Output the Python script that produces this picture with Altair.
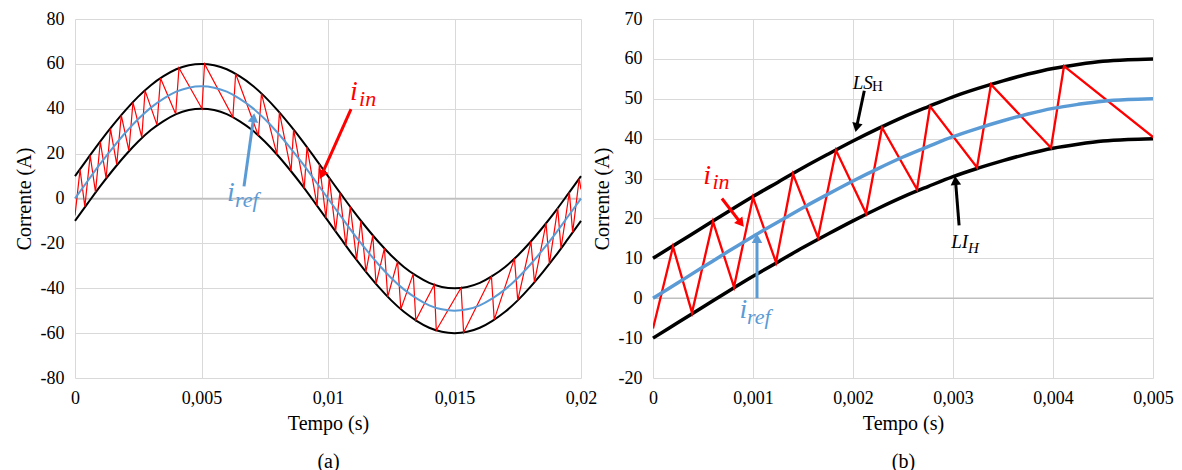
import altair as alt
import pandas as pd

FONT = "Liberation Serif, Times New Roman, serif"
RED, BLUE, BLACK = "#FF0000", "#5B9BD5", "#000000"

# ---------------- panel (a) : full period ----------------
t_a = [0, 0.0005, 0.001, 0.0015, 0.002, 0.0025, 0.003, 0.0035, 0.004, 0.0045,
       0.005, 0.0055, 0.006, 0.0065, 0.007, 0.0075, 0.008, 0.0085, 0.009, 0.0095,
       0.01, 0.0105, 0.011, 0.0115, 0.012, 0.0125, 0.013, 0.0135, 0.014, 0.0145,
       0.015, 0.0155, 0.016, 0.0165, 0.017, 0.0175, 0.018, 0.0185, 0.019, 0.0195, 0.02]
ref_a = [0, 7.8, 15.5, 22.7, 29.4, 35.4, 40.5, 44.5, 47.6, 49.4,
         50, 49.4, 47.6, 44.5, 40.5, 35.4, 29.4, 22.7, 15.5, 7.8,
         0, -7.8, -15.5, -22.7, -29.4, -35.4, -40.5, -44.5, -47.6, -49.4,
         -50, -49.4, -47.6, -44.5, -40.5, -35.4, -29.4, -22.7, -15.5, -7.8, 0]
ls_a = [10, 17.8, 25.5, 32.7, 39.4, 45.4, 50.5, 54.5, 57.6, 59.4,
        60, 59.4, 57.6, 54.5, 50.5, 45.4, 39.4, 32.7, 25.5, 17.8,
        10, 2.2, -5.5, -12.7, -19.4, -25.4, -30.5, -34.5, -37.6, -39.4,
        -40, -39.4, -37.6, -34.5, -30.5, -25.4, -19.4, -12.7, -5.5, 2.2, 10]
li_a = [-10, -2.2, 5.5, 12.7, 19.4, 25.4, 30.5, 34.5, 37.6, 39.4,
        40, 39.4, 37.6, 34.5, 30.5, 25.4, 19.4, 12.7, 5.5, -2.2,
        -10, -17.8, -25.5, -32.7, -39.4, -45.4, -50.5, -54.5, -57.6, -59.4,
        -60, -59.4, -57.6, -54.5, -50.5, -45.4, -39.4, -32.7, -25.5, -17.8, -10]

# input current (hysteresis zig-zag vertices)
t_in = [0, 0.0002, 0.00039, 0.0006, 0.00081, 0.001, 0.00123, 0.0014, 0.00165, 0.00183,
        0.00213, 0.00229, 0.00264, 0.00277, 0.00324, 0.00338, 0.00398, 0.00411,
        0.00502, 0.00512, 0.00624, 0.00635, 0.00725, 0.00737, 0.00798, 0.00808,
        0.00854, 0.00864, 0.00906, 0.00917, 0.00957, 0.00966, 0.00992, 0.01005,
        0.0103, 0.01047, 0.01071, 0.01088, 0.01113, 0.0113, 0.0115, 0.01177,
        0.0119, 0.01223, 0.01236, 0.01275, 0.01288, 0.01337, 0.01347, 0.0142,
        0.01428, 0.01526, 0.01536, 0.01646, 0.01657, 0.01737, 0.0175, 0.01802,
        0.01816, 0.01862, 0.01875, 0.01908, 0.01921, 0.01954, 0.01967, 0.01993, 0.02]
i_in = [-7.6, 12.9, -3.6, 19.2, 2.8, 25.3, 9.0, 31.1, 15.2, 37.1,
        21.3, 42.8, 27.3, 48.1, 32.8, 53.6, 37.7, 58.2,
        40.0, 60.0, 36.3, 55.6, 28.0, 46.7, 19.7, 38.4,
        12.2, 30.7, 4.5, 22.9, -3.3, 15.3, -8.7, 9.2,
        -14.7, 2.6, -21.1, -3.6, -27.3, -9.9, -32.7, -16.4,
        -38.1, -22.2, -43.8, -28.0, -49.3, -33.6, -54.3, -38.4,
        -58.7, -39.8, -59.7, -34.8, -54.0, -26.7, -45.4, -19.1,
        -37.3, -11.0, -29.1, -4.3, -22.3, 2.8, -15.1, 8.9, 4.0]

# ---------------- panel (b) : first quarter ----------------
t_b = [0, 0.00025, 0.0005, 0.00075, 0.001, 0.00125, 0.0015, 0.00175, 0.002, 0.00225,
       0.0025, 0.00275, 0.003, 0.00325, 0.0035, 0.00375, 0.004, 0.00425, 0.0045, 0.00475, 0.005]
ref_b = [0, 3.9, 7.8, 11.7, 15.5, 19.1, 22.7, 26.1, 29.4, 32.5,
         35.4, 38.0, 40.5, 42.6, 44.5, 46.2, 47.6, 48.6, 49.4, 49.8, 50]
ls_b = [10, 13.9, 17.8, 21.7, 25.5, 29.1, 32.7, 36.1, 39.4, 42.5,
        45.4, 48.0, 50.5, 52.6, 54.5, 56.2, 57.6, 58.6, 59.4, 59.8, 60]
li_b = [-10, -6.1, -2.2, 1.7, 5.5, 9.1, 12.7, 16.1, 19.4, 22.5,
        25.4, 28.0, 30.5, 32.6, 34.5, 36.2, 37.6, 38.6, 39.4, 39.8, 40]

x_ticks_a = [0, 0.005, 0.01, 0.015, 0.02]
y_ticks_a = [-80, -60, -40, -20, 0, 20, 40, 60, 80]
x_ticks_b = [0, 0.001, 0.002, 0.003, 0.004, 0.005]
y_ticks_b = [-20, -10, 0, 10, 20, 30, 40, 50, 60, 70]

# annotations (data coordinates)
ann_a = pd.DataFrame({
    "t": [0.01087, 0.01123, 0.00601, 0.00632],
    "y": [43.8, 41.4, -0.9, -3.6],
    "txt": ["i", "in", "i", "ref"],
    "c": [RED, RED, BLUE, BLUE],
    "main": [True, False, True, False],
})
arr_a = pd.DataFrame({
    "t0": [0.01091, 0.00668], "y0": [39.8, 5.4],
    "t1": [0.00975, 0.00706], "y1": [10.5, 36.0],
    "c": [RED, BLUE], "ang": [204, 8],
})
ann_b = pd.DataFrame({
    "t": [0.000502, 0.000595, 0.000866, 0.00094],
    "y": [28.75, 27.3, -5.0, -6.4],
    "txt": ["i", "in", "i", "ref"],
    "c": [RED, RED, BLUE, BLUE],
    "main": [True, False, True, False],
})
lab_b = pd.DataFrame({
    "t": [0.001998, 0.00219, 0.002982, 0.00315],
    "y": [52.5, 52.0, 12.5, 11.3],
    "txt": ["LS", "H", "LI", "H"],
})
arr_b = pd.DataFrame({
    "t0": [0.000689, 0.00104, 0.002113, 0.003061],
    "y0": [25.0, 0.0, 52.0, 18.25],
    "t1": [0.00088, 0.00104, 0.002035, 0.003025],
    "y1": [18.8, 15.0, 42.8, 29.5],
    "c": [RED, BLUE, BLACK, BLACK],
    "ang": [142, 0, 192, 355],
})

XLAB = "replace(toString(datum.value), '.', ',')"


def panel(t, ref, ls, li, xdom, xt, ydom, yt, w, h, lwb, lwr, lwi, tag, ann, arr,
          extra=None, msize=28, ssize=22):
    xs = alt.Scale(domain=xdom, nice=False, zero=False)
    ys = alt.Scale(domain=ydom, nice=False, zero=False)
    xa = alt.Axis(values=xt, labelExpr=XLAB, title=["Tempo (s)", tag], titleLineHeight=38,
                  grid=True, labelFlush=False)
    ya = alt.Axis(values=yt, labelExpr="toString(datum.value)", title="Corrente (A)", grid=True)

    def X(f):
        return alt.X(f, scale=xs, axis=xa)

    def Y(f):
        return alt.Y(f, scale=ys, axis=ya)

    curves = pd.DataFrame({"t": t, "ref": ref, "ls": ls, "li": li})
    zig = pd.DataFrame({"t": t_in, "i": i_in})
    zero = alt.Chart(pd.DataFrame({"t": [xdom[0]], "z": [0]})).mark_rule(
        color="#BFBFBF", strokeWidth=1.5).encode(y=Y("z:Q"))
    base = alt.Chart(curves)
    upper = base.mark_line(color=BLACK, strokeWidth=lwb, interpolate="monotone").encode(
        x=X("t:Q"), y=Y("ls:Q"))
    lower = base.mark_line(color=BLACK, strokeWidth=lwb, interpolate="monotone").encode(
        x=X("t:Q"), y=Y("li:Q"))
    red = alt.Chart(zig).mark_line(color=RED, strokeWidth=lwi, clip=True).encode(
        x=X("t:Q"), y=Y("i:Q"), order="t:Q")
    blue = base.mark_line(color=BLUE, strokeWidth=lwr, interpolate="monotone").encode(
        x=X("t:Q"), y=Y("ref:Q"))
    rules = alt.Chart(arr).mark_rule(strokeWidth=3).encode(
        x=X("t0:Q"), y=Y("y0:Q"), x2="t1:Q", y2="y1:Q",
        color=alt.Color("c:N", scale=None))
    heads = alt.Chart(arr).mark_point(shape="triangle-up", filled=True, size=110, opacity=1).encode(
        x=X("t1:Q"), y=Y("y1:Q"),
        angle=alt.Angle("ang:Q", scale=None), color=alt.Color("c:N", scale=None))
    main = alt.Chart(ann).transform_filter("datum.main").mark_text(
        font=FONT, fontStyle="italic", fontSize=msize, align="left", baseline="alphabetic").encode(
        x=X("t:Q"), y=Y("y:Q"), text="txt:N", color=alt.Color("c:N", scale=None))
    sub = alt.Chart(ann).transform_filter("!datum.main").mark_text(
        font=FONT, fontStyle="italic", fontSize=ssize, align="left", baseline="alphabetic").encode(
        x=X("t:Q"), y=Y("y:Q"), text="txt:N", color=alt.Color("c:N", scale=None))
    layers = [zero, upper, lower, red, blue, rules, heads, main, sub]
    if extra is not None:
        layers += extra(X, Y)
    return alt.layer(*layers).properties(width=w, height=h)


def extra_b(X, Y):
    big = alt.Chart(lab_b).transform_filter("length(datum.txt) == 2").mark_text(
        font=FONT, fontStyle="italic", fontSize=19, align="left", baseline="alphabetic", color=BLACK).encode(
        x=X("t:Q"), y=Y("y:Q"), text="txt:N")
    h_up = alt.Chart(lab_b).transform_filter("datum.txt == 'H' && datum.y > 30").mark_text(
        font=FONT, fontSize=15, align="left", baseline="alphabetic", color=BLACK).encode(
        x=X("t:Q"), y=Y("y:Q"), text="txt:N")
    h_it = alt.Chart(lab_b).transform_filter("datum.txt == 'H' && datum.y < 30").mark_text(
        font=FONT, fontStyle="italic", fontSize=15, align="left", baseline="alphabetic", color=BLACK).encode(
        x=X("t:Q"), y=Y("y:Q"), text="txt:N")
    return [big, h_up, h_it]


pa = panel(t_a, ref_a, ls_a, li_a, [0, 0.02], x_ticks_a, [-80, 80], y_ticks_a,
           506, 359, 2, 2, 1.2, "(a)", ann_a, arr_a)
pb = panel(t_b, ref_b, ls_b, li_b, [0, 0.005], x_ticks_b, [-20, 70], y_ticks_b,
           500, 359, 3.5, 3.5, 2.3, "(b)", ann_b, arr_b, extra=extra_b)

chart = alt.hconcat(pa, pb, spacing=72, bounds="flush").properties(
    padding={"left": 6, "top": 2, "right": 0, "bottom": 0}
).configure_axis(
    labelFont=FONT, labelFontSize=18, labelColor="black",
    titleFont=FONT, titleFontSize=20, titleFontWeight="normal", titleColor="black",
    gridColor="#D9D9D9", gridWidth=1, domain=False, ticks=False,
    labelPadding=11, titlePadding=6,
).configure_view(stroke=None)

chart.save("out.html", embed_options={"renderer": "svg", "actions": False})
